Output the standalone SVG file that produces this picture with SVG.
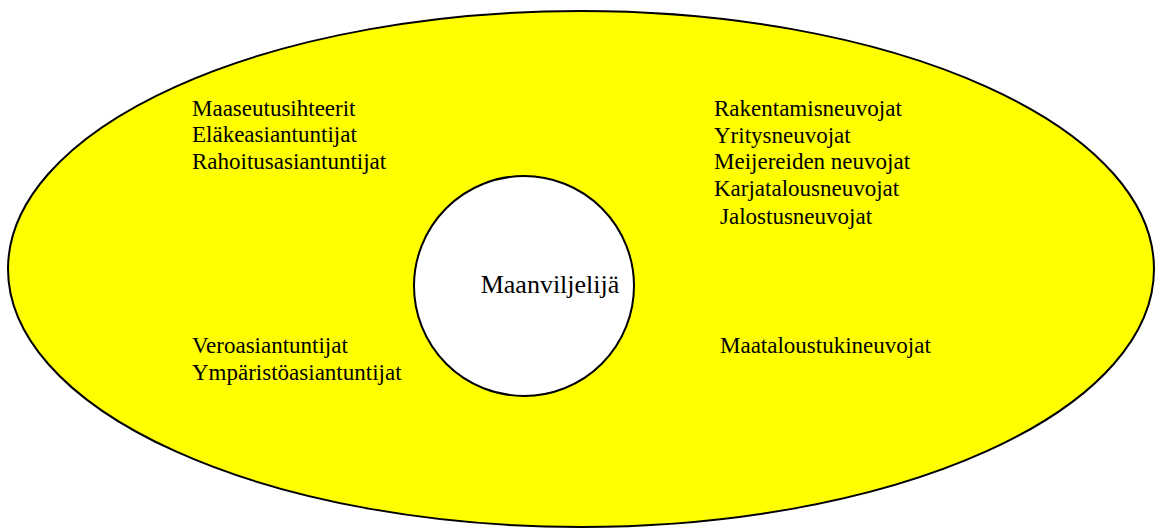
<svg xmlns="http://www.w3.org/2000/svg" width="1156" height="530" viewBox="0 0 1156 530">
<style>
.t{font-family:"Liberation Serif","Times New Roman",serif;font-size:23px;fill:#000}
.c{font-family:"Liberation Serif","Times New Roman",serif;font-size:26px;fill:#000;text-anchor:middle}
</style>
<rect width="1156" height="530" fill="#fff"/>
<g id="outer">
<ellipse cx="581" cy="269" rx="573" ry="258" fill="#ffff00" stroke="#000" stroke-width="2"/>
<text class="t" x="192" y="116">Maaseutusihteerit</text>
<text class="t" x="192" y="142">Eläkeasiantuntijat</text>
<text class="t" x="192" y="169">Rahoitusasiantuntijat</text>
<text class="t" x="714" y="116">Rakentamisneuvojat</text>
<text class="t" x="714" y="143">Yritysneuvojat</text>
<text class="t" x="714" y="169">Meijereiden neuvojat</text>
<text class="t" x="714" y="196">Karjatalousneuvojat</text>
<text class="t" x="720" y="224">Jalostusneuvojat</text>
<text class="t" x="192" y="353">Veroasiantuntijat</text>
<text class="t" x="192" y="380">Ympäristöasiantuntijat</text>
<text class="t" x="720" y="353">Maataloustukineuvojat</text>
</g>
<g id="center">
<circle cx="524" cy="286" r="110" fill="#fff" stroke="#000" stroke-width="2"/>
<text class="c" x="550" y="293">Maanviljelijä</text>
</g>
<g id="connectors"></g>
</svg>
